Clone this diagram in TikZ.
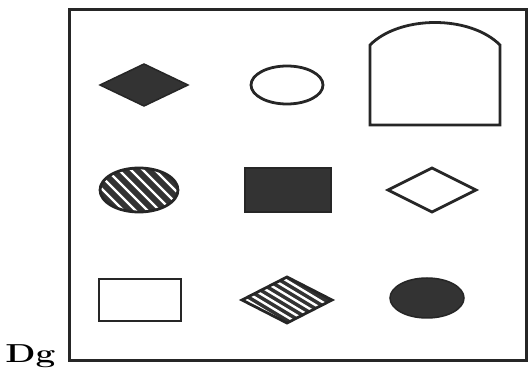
\documentclass[tikz,border=0pt]{standalone}
\usepackage{fontspec}
\usepackage{tikz}
\usetikzlibrary{calc}

\begin{document}
\begin{tikzpicture}[x=1pt,y=-1pt,
    outline/.style={line width=2.8pt,black!85},
    solid fill/.style={fill=black!80},
    stripe/.style={white,line width=2.4pt}]
  \useasboundingbox (0,0) rectangle (531,374);

  % Frame
  \draw[line width=3pt,black!85] (69,10) rectangle (526,361);

  % Row 1
  \coordinate (D1) at (144,85);
  \fill[solid fill,draw=black!85,line width=1.5pt] ($(D1)+(-44,0)$) -- ($(D1)+(0,-21)$) -- ($(D1)+(44,0)$) -- ($(D1)+(0,21)$) -- cycle;

  \coordinate (C1) at (287,85);
  \draw[outline] (C1) ellipse (36 and 19);

  \coordinate (A1) at (370,45);
  \coordinate (A2) at (500,45);
  \draw[outline] (370,125) -- (A1) .. controls (400,15) and (470,15) .. (A2) -- (500,125) -- cycle;

  % Row 2
  \coordinate (C2) at (139,190);
  \begin{scope}
    \clip (C2) ellipse (39 and 22);
    \fill[solid fill] (C2) ellipse (39 and 22);
    \foreach \d in {-36,-24,...,36}
      \draw[stripe] ($(C2)+(\d,0)+(-40,-40)$) -- ($(C2)+(\d,0)+(40,40)$);
  \end{scope}
  \draw[outline] (C2) ellipse (39 and 22);

  \coordinate (R2) at (288,190);
  \fill[solid fill,draw=black!85,line width=1.5pt] ($(R2)+(-43,-22)$) rectangle ($(R2)+(43,22)$);

  \coordinate (D2) at (432,190);
  \draw[outline] ($(D2)+(-44,0)$) -- ($(D2)+(0,-22)$) -- ($(D2)+(44,0)$) -- ($(D2)+(0,22)$) -- cycle;

  % Row 3
  \coordinate (R3) at (140,300);
  \draw[outline] ($(R3)+(-41,-21)$) rectangle ($(R3)+(41,21)$);

  \coordinate (D3) at (287,300);
  \begin{scope}
    \clip ($(D3)+(-45,0)$) -- ($(D3)+(0,-23)$) -- ($(D3)+(45,0)$) -- ($(D3)+(0,23)$) -- cycle;
    \fill[solid fill] ($(D3)+(-45,-23)$) rectangle ($(D3)+(45,23)$);
    \foreach \d in {-40,-28,...,40}
      \draw[stripe] ($(D3)+(\d,0)+(-50,-30)$) -- ($(D3)+(\d,0)+(50,30)$);
  \end{scope}
  \draw[outline] ($(D3)+(-45,0)$) -- ($(D3)+(0,-23)$) -- ($(D3)+(45,0)$) -- ($(D3)+(0,23)$) -- cycle;

  \coordinate (C3) at (427,298);
  \fill[solid fill,draw=black!85,line width=1.5pt] (C3) ellipse (37 and 20);

  % Label
  \node[anchor=base west,inner sep=0pt,xscale=1.35,font=\fontsize{26}{26}\selectfont\bfseries] (lbl) at (5,363) {Dg};
\end{tikzpicture}
\end{document}
